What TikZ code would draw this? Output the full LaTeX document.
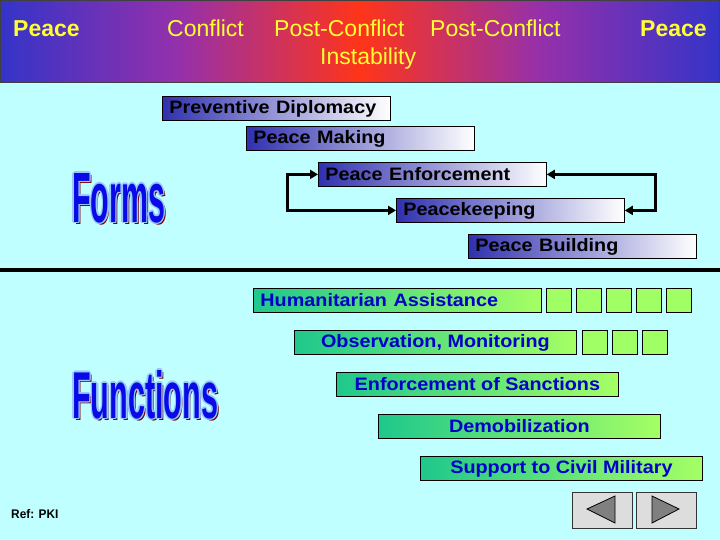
\documentclass[tikz,border=0pt]{standalone}
\usepackage{fontspec}
\setmainfont{Liberation Sans}
\usetikzlibrary{arrows.meta}
\definecolor{bg}{RGB}{192,255,255}
\definecolor{hblue}{RGB}{52,52,200}
\definecolor{hpurple}{RGB}{150,48,170}
\definecolor{hred}{RGB}{255,52,25}
\definecolor{hyellow}{RGB}{255,255,51}
\definecolor{fblue}{RGB}{48,48,176}
\definecolor{gteal}{RGB}{30,200,140}
\definecolor{glime}{RGB}{165,255,100}
\definecolor{sqgreen}{RGB}{160,255,100}
\definecolor{tblue}{RGB}{0,0,200}
\definecolor{wblue}{RGB}{10,10,230}
\definecolor{wlight}{RGB}{150,200,255}
\definecolor{wshadow}{RGB}{120,0,0}
\definecolor{btngray}{RGB}{221,221,221}
\definecolor{trigray}{RGB}{128,128,128}
\newcommand\wtx[1]{\scalebox{1.1}[1]{#1}}
\newcommand\bigword[3]{\resizebox{#2}{#3}{\bfseries #1}}
\begin{document}
\begin{tikzpicture}[x=1pt,y=-1pt,
  formbox/.style={draw=black, line width=0.8pt, left color=fblue, right color=white,
    minimum height=24pt, text width=214pt, inner xsep=7pt, inner ysep=0pt, align=left,
    anchor=north west, font=\bfseries\fontsize{18}{18}\selectfont, text=black},
  funcbox/.style={draw=black, line width=0.8pt, left color=gteal, right color=glime,
    minimum height=24pt, minimum width=282pt, inner xsep=0pt, inner ysep=0pt,
    anchor=north west, font=\bfseries\fontsize{18}{18}\selectfont, text=tblue},
  sq/.style={draw=black, line width=0.8pt, fill=sqgreen, minimum width=25pt,
    minimum height=24pt, inner sep=0pt, anchor=north west},
  htext/.style={text=hyellow, font=\fontsize{23}{23}\selectfont, inner sep=0pt, anchor=base west},
  loopline/.style={line width=3pt, {Triangle[length=8pt,width=9pt]}-{Triangle[length=8pt,width=9pt]}},
  btn/.style={draw=black!80, line width=0.8pt, fill=btngray, minimum width=60pt,
    minimum height=36pt, inner sep=0pt, anchor=north west},
  tri/.style={draw=black, line width=0.8pt, fill=trigray},
  wordnode/.style={inner sep=0pt, anchor=north west},
]
\fill[bg] (0,0) rectangle (720,540);
\useasboundingbox (0,0) rectangle (720,540);
% header
\shade[left color=hblue, right color=hred, middle color=hpurple] (0,0) rectangle (360,83);
\shade[left color=hred, right color=hblue, middle color=hpurple] (360,0) rectangle (720,83);
\draw[black!75, line width=1pt] (0.5,0.5) rectangle (719.5,83);
\node[htext, font=\bfseries\fontsize{23}{23}\selectfont] (h1) at (13,37) {Peace};
\node[htext] (h2) at (167,37) {Conflict};
\node[htext] (h3) at (274,37) {Post-Conflict};
\node[htext] (h3b) at (320,65) {Instability};
\node[htext] (h4) at (430,37) {Post-Conflict};
\node[htext, font=\bfseries\fontsize{23}{23}\selectfont] (h5) at (640,37) {Peace};
% forms
\node[formbox] (PD) at (162,96) {\wtx{Preventive Diplomacy}};
\node[formbox] (PM) at (246,126) {\wtx{Peace Making}};
\node[formbox] (PE) at (318,162) {\wtx{Peace Enforcement}};
\node[formbox] (PK) at (396,198) {\wtx{Peacekeeping}};
\node[formbox] (PB) at (468,234) {\wtx{Peace Building}};
\coordinate (L) at (287,0);
\coordinate (R) at (655,0);
\draw[loopline] (PE.west) -- (PE.west -| L) -- (PK.west -| L) -- (PK.west);
\draw[loopline] (PE.east) -- (PE.east -| R) -- (PK.east -| R) -- (PK.east);
% separator
\draw[line width=4pt] (0,270) -- (720,270);
% big words
\node[wordnode, text=wshadow] (fs) at (74,175) {\bigword{Forms}{93pt}{49pt}};
\foreach \dx/\dy [count=\i] in {-1.5/0,1.5/0,0/-1.5,0/1.5,-1/-1,1/1,-1/1,1/-1}
  \node[wordnode, text=wlight] (fo\i) at (72+\dx,173+\dy) {\bigword{Forms}{93pt}{49pt}};
\node[wordnode, text=wblue] (forms) at (72,173) {\bigword{Forms}{93pt}{49pt}};
\node[wordnode, text=wshadow] (us) at (74,372) {\bigword{Functions}{146pt}{48pt}};
\foreach \dx/\dy [count=\i] in {-1.5/0,1.5/0,0/-1.5,0/1.5,-1/-1,1/1,-1/1,1/-1}
  \node[wordnode, text=wlight] (uo\i) at (72+\dx,370+\dy) {\bigword{Functions}{146pt}{48pt}};
\node[wordnode, text=wblue] (functions) at (72,370) {\bigword{Functions}{146pt}{48pt}};
% functions
\node[funcbox, minimum width=288pt, text width=274pt, inner xsep=7pt, align=left] (HA) at (253,288) {\wtx{Humanitarian Assistance}};
\foreach \x [count=\i] in {546,576,606,636,666}
  \node[sq] (s\i) at (\x,288) {};
\node[funcbox] (OM) at (294,330) {\wtx{Observation, Monitoring}};
\foreach \x [count=\i] in {582,612,642}
  \node[sq] (t\i) at (\x,330) {};
\node[funcbox] (ES) at (336,372) {\wtx{Enforcement of Sanctions}};
\node[funcbox] (DM) at (378,414) {\wtx{Demobilization}};
\node[funcbox] (SC) at (420,456) {\wtx{Support to Civil Military}};
% footer
\node[inner sep=0pt, anchor=west, font=\bfseries\fontsize{12.5}{12.5}\selectfont] (ref) at (11,514) {\scalebox{0.95}[1]{Ref: PKI}};
\node[btn] (b1) at (572,492) {};
\node[btn] (b2) at (636,492) {};
\draw[tri] (587,509) -- (615,496) -- (615,523) -- cycle;
\draw[tri] (652,496) -- (679,509) -- (652,523) -- cycle;
\end{tikzpicture}
\end{document}
